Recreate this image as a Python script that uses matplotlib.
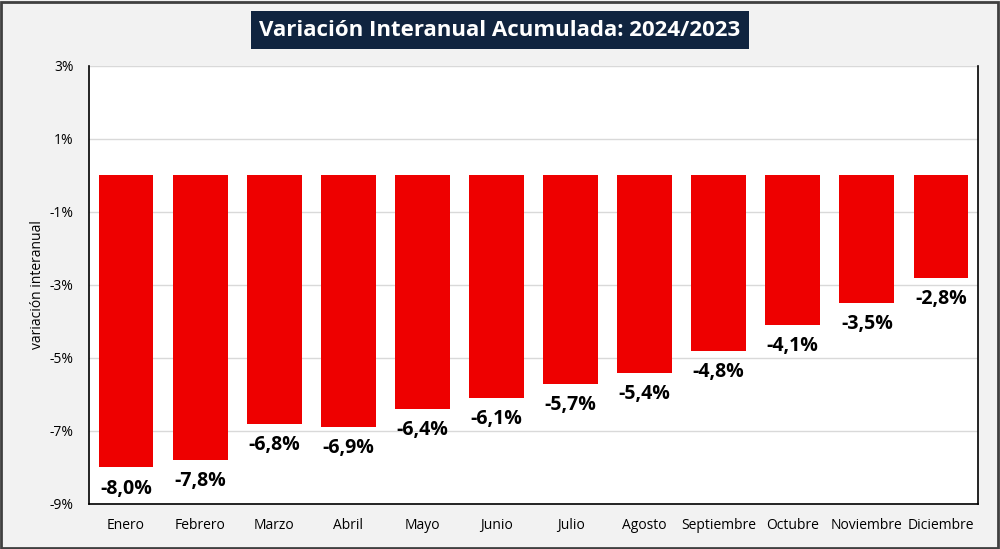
import matplotlib.pyplot as plt
from matplotlib.patches import Rectangle

# Datos: variación interanual acumulada 2024/2023 (%)
meses = ['Enero', 'Febrero', 'Marzo', 'Abril', 'Mayo', 'Junio', 'Julio',
         'Agosto', 'Septiembre', 'Octubre', 'Noviembre', 'Diciembre']
variacion = [-8.0, -7.8, -6.8, -6.9, -6.4, -6.1, -5.7, -5.4, -4.8, -4.1, -3.5, -2.8]
yticks = [3, 1, -1, -3, -5, -7, -9]

plt.rcParams['font.family'] = ['Open Sans', 'DejaVu Sans']

fig = plt.figure(figsize=(10, 5.49), dpi=100, facecolor='#F2F2F2')
ax = fig.add_axes([0.089, 0.082, 0.889, 0.798])
ax.set_facecolor('white')

x = range(len(meses))
bars = ax.bar(x, variacion, width=0.74, color='#EE0000', zorder=3)

for xi, v in zip(x, variacion):
    ax.annotate(f'{v:.1f}%'.replace('.', ','), (xi, v), xytext=(0, -8),
                textcoords='offset points', ha='center', va='top',
                fontsize=14, fontweight='bold', color='black')

ax.set_xlim(-0.5, len(meses) - 0.5)
ax.set_ylim(-9, 3)
ax.set_yticks(yticks)
ax.set_yticklabels([f'{t}%' for t in yticks], fontsize=10)
ax.set_xticks(list(x))
ax.set_xticklabels(meses, fontsize=10)
ax.tick_params(length=0, pad=10)
ax.tick_params(axis='y', pad=11)
ax.grid(axis='y', color='#D9D9D9', linewidth=1, zorder=0)
for s in ax.spines.values():
    s.set_color('black')
    s.set_linewidth(1.2)
ax.spines['top'].set_visible(False)

ax.set_ylabel('variación interanual', fontsize=10)
ax.yaxis.set_label_coords(-0.049, 0.5)

fig.text(0.5, 0.945, 'Variación Interanual Acumulada: 2024/2023',
         ha='center', va='center', fontsize=16, fontweight='bold', color='white',
         bbox=dict(boxstyle='square,pad=0.38', facecolor='#10243F', edgecolor='none'))

fig.patches.append(Rectangle((0.001, 0.002), 0.997, 0.995, transform=fig.transFigure,
                             fill=False, edgecolor='#404040', linewidth=2))

fig.savefig('out.png', dpi=100, facecolor=fig.get_facecolor())
